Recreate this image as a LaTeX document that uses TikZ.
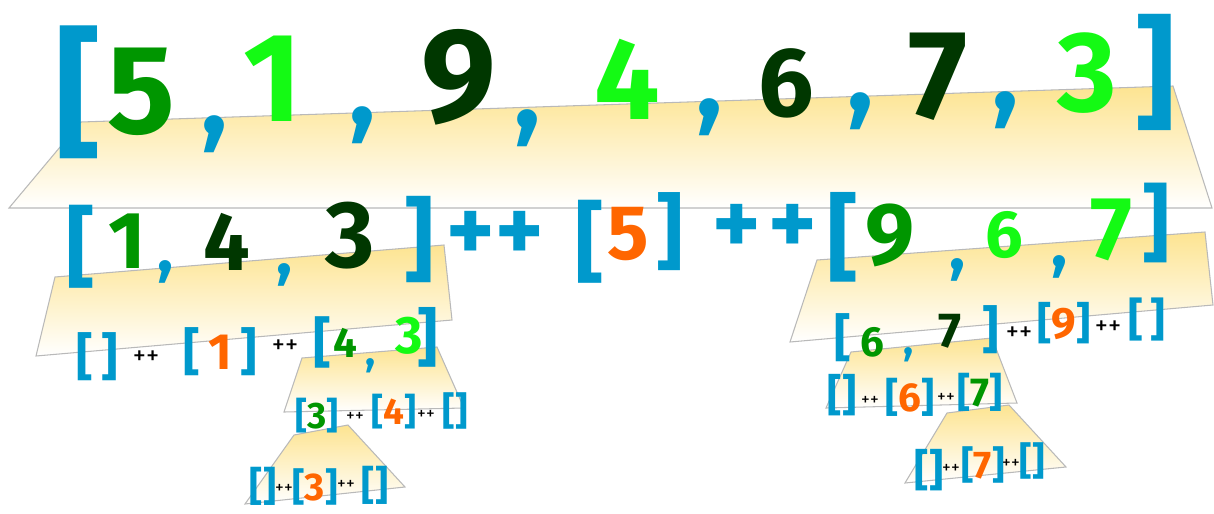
\documentclass[tikz,border=0pt]{standalone}
\usepackage{fontspec}
\setmainfont{Fira Sans}

\definecolor{lblue}{RGB}{0,153,204}
\definecolor{mgreen}{RGB}{0,150,0}
\definecolor{lgreen}{RGB}{20,250,20}
\definecolor{dgreen}{RGB}{0,55,0}
\definecolor{orng}{RGB}{255,102,0}
\definecolor{cream}{RGB}{253,228,145}

\tikzset{
  glyph/.style={inner sep=0pt, font=\fontsize{#1}{#1}\selectfont\bfseries},
  brk/.style={glyph=#1, text=lblue},
  concat/.style={inner sep=0pt, font=\fontsize{#1}{#1}\selectfont, text=black},
  wedge/.style={top color=cream, bottom color=white, draw=gray!55, line width=0.6pt},
}

\begin{document}
\begin{tikzpicture}[x=0.02cm, y=-0.02cm]
  \useasboundingbox (0,0) rectangle (1214,514);

  % partition planes
  \shade[wedge] (81,122) -- (1173,86) -- (1212,208) -- (9,208) -- cycle;
  \shade[wedge] (55,277) -- (444,245) -- (452,320) -- (36,356) -- cycle;
  \shade[wedge] (817,260) -- (1205,232) -- (1213,305) -- (790,342) -- cycle;
  \shade[wedge] (302,358) -- (437,347) -- (464,408) -- (284,412) -- cycle;
  \shade[wedge] (851,352) -- (992,338) -- (1017,403) -- (826,408) -- cycle;
  \shade[wedge] (294,435) -- (348,425) -- (405,487) -- (245,504) -- cycle;
  \shade[wedge] (947,413) -- (1009,405) -- (1066,467) -- (905,483) -- cycle;

  % [5,1,9,4,6,7,3]
  \node[brk=80] (topopen) at (78,92) {[};
  \foreach \x/\y/\c/\s/\d [count=\i] in {141/92/mgreen/72/5, 273/79/lgreen/72/1,
      459/77/dgreen/76/9, 627/79/lgreen/66/4, 786/83/dgreen/56/6,
      938/77/dgreen/72/7, 1087/73/lgreen/65/3}
    \node[glyph=\s, text=\c] (topd\i) at (\x,\y) {\d};
  \foreach \x/\y [count=\i] in {215/134, 363/125, 528/128, 710/117, 861/111, 1006/110}
    \node[brk=62] (topc\i) at (\x,\y) {,};
  \node[brk=70] (topclose) at (1155,72) {]};

  % [1,4,3] ++ [5] ++ [9,6,7]
  \foreach \x/\y/\s/\b [count=\i] in {81/247/50/{[}, 419/240/52/{]}, 590/242/50/{[},
      670/232/47/{]}, 843/237/54/{[}, 1156/223/48/{]}}
    \node[brk=\s] (midb\i) at (\x,\y) {\b};
  \foreach \x/\y/\c/\s/\d [count=\i] in {127/241/mgreen/46/1, 227/242/dgreen/47/4,
      350/236/dgreen/54/3, 628/234/orng/44/5, 890/235/mgreen/50/9,
      1004/235/lgreen/38/6, 1111/230/lgreen/51/7}
    \node[glyph=\s, text=\c] (midd\i) at (\x,\y) {\d};
  \foreach \x/\y [count=\i] in {166/272, 285/275, 958/270, 1060/267}
    \node[brk=38] (midc\i) at (\x,\y) {,};
  \node[brk=52] (midcat1) at (495,236) {++};
  \node[brk=52] (midcat2) at (765,229) {+\hspace{4pt}+};

  % [] ++ [1] ++ [4,3]
  \node[brk=29] (lnil1) at (97,357) {[\,]};
  \node[concat=15] (lcat1) at (146,358) {++};
  \node[brk=29] (lone) at (220,352) {[\,\textcolor{orng}{1}\,]};
  \node[concat=15] (lcat2) at (285,347) {++};
  \node[brk=31] (lopen) at (322,342) {[};
  \node[glyph=24, text=mgreen] (lfour) at (345,343) {4};
  \node[brk=24] (lcomma) at (371,366) {,};
  \node[glyph=30, text=lgreen] (lthree) at (409,336) {3};
  \node[brk=36] (lclose) at (428,337) {]};

  % [3] ++ [4] ++ []
  \node[brk=21] (lthreeb) at (317,416) {[\textcolor{mgreen}{3}]};
  \node[concat=10] (lcat3) at (355,417) {++};
  \node[brk=21] (lfourb) at (394,412) {[\textcolor{orng}{4}]};
  \node[concat=10] (lcat4) at (426,415) {++};
  \node[brk=22] (lnil2) at (455,411) {[]};

  % [] ++ [3] ++ []
  \node[brk=23] (lnil3) at (263,486) {[]};
  \node[concat=10] (lcat5) at (284,489) {++};
  \node[brk=22] (lthreec) at (315,487) {[\textcolor{orng}{3}]};
  \node[concat=10] (lcat6) at (346,485) {++};
  \node[brk=23] (lnil4) at (375,485) {[]};

  % [6,7] ++ [9] ++ []
  \node[brk=29] (ropen) at (843,338) {[};
  \node[glyph=24, text=mgreen] (rsix) at (872,342) {6};
  \node[brk=24] (rcomma) at (909,355) {,};
  \node[glyph=28, text=dgreen] (rseven) at (950,331) {7};
  \node[brk=29] (rclose) at (991,330) {]};
  \node[concat=15] (rcat1) at (1019,334) {++};
  \node[brk=25] (rnine) at (1064,323) {[\textcolor{orng}{9}]};
  \node[concat=15] (rcat2) at (1108,328) {++};
  \node[brk=26] (rnil1) at (1147,320) {[\,]};

  % [] ++ [6] ++ [7]
  \node[brk=25] (rnil2) at (842,395) {[]};
  \node[concat=10] (rcat3) at (870,401) {++};
  \node[brk=23] (rsixb) at (910,397) {[\textcolor{orng}{6}]};
  \node[concat=10] (rcat4) at (946,398) {++};
  \node[brk=23] (rsevenb) at (980,392) {[\textcolor{mgreen}{7}]};

  % [] ++ [7] ++ []
  \node[brk=25] (rnil3) at (929,470) {[]};
  \node[concat=10] (rcat5) at (951,469) {++};
  \node[brk=22] (rsevenc) at (983,465) {[\textcolor{orng}{7}]};
  \node[concat=10] (rcat6) at (1011,464) {++};
  \node[brk=22] (rnil4) at (1032,461) {[]};
\end{tikzpicture}
\end{document}
